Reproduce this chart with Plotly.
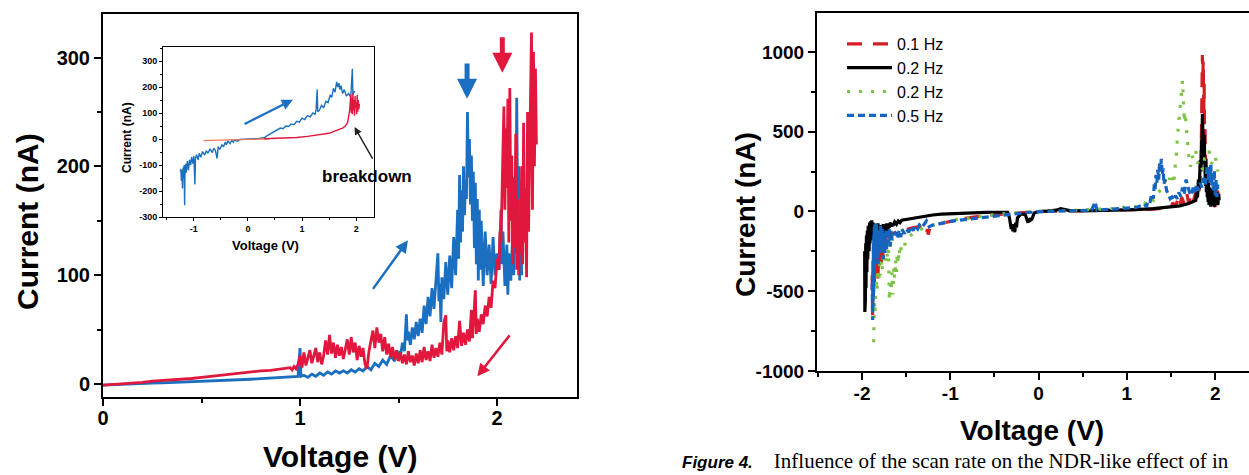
import plotly.graph_objects as go

# ---------------- Main panel: I-V sweeps (0 to 2.2 V) ----------------
main_blue_v = [0.00, 0.05, 0.10, 0.15, 0.20, 0.25, 0.30, 0.35, 0.40, 0.45, 0.50, 0.55, 0.60, 0.65,
               0.70, 0.75, 0.80, 0.85, 0.90, 0.95, 0.99, 1.00, 1.005, 1.02, 1.04, 1.06, 1.08, 1.10,
               1.12, 1.14, 1.16, 1.18, 1.20, 1.22, 1.24, 1.26, 1.28, 1.30, 1.32, 1.34, 1.36, 1.38,
               1.40, 1.42, 1.44, 1.46, 1.48, 1.50, 1.51, 1.52, 1.53, 1.54, 1.545, 1.55, 1.56, 1.57,
               1.58, 1.59, 1.60, 1.61, 1.62, 1.63, 1.64, 1.65, 1.66, 1.67, 1.68, 1.69, 1.70, 1.705,
               1.71, 1.715, 1.72, 1.73, 1.74, 1.75, 1.76, 1.77, 1.78, 1.79, 1.80, 1.805, 1.81, 1.815,
               1.82, 1.825, 1.83, 1.835, 1.84, 1.845, 1.85, 1.855, 1.86, 1.865, 1.87, 1.875, 1.88,
               1.885, 1.89, 1.895, 1.90, 1.905, 1.91, 1.915, 1.92, 1.93, 1.94, 1.95, 1.96, 1.97, 1.98,
               1.99, 2.00, 2.01, 2.02, 2.025, 2.03, 2.04, 2.05, 2.055, 2.06, 2.07, 2.08, 2.085, 2.09,
               2.095, 2.10, 2.105, 2.11, 2.115, 2.12, 2.125]
main_blue_i = [-1, -0.5, 0, 0.3, 0.5, 0.8, 1, 1.3, 1.6, 2, 2.3, 2.7, 3, 3.4,
               3.8, 4.3, 4.8, 5.3, 6, 6.5, 7, 33, 7, 8, 6, 9, 7, 10,
               8, 11, 9, 12, 10, 12, 10, 13, 11, 14, 12, 16, 13, 19,
               16, 22, 18, 26, 21, 30, 26, 38, 30, 64, 40, 48, 36, 52,
               41, 57, 44, 60, 47, 72, 55, 80, 62, 88, 69, 95, 120, 76,
               92, 57, 98, 78, 112, 82, 118, 88, 135, 100, 160, 115, 192, 130,
               178, 140, 200, 155, 185, 170, 250, 190, 225, 165, 210, 150, 195,
               125, 185, 110, 170, 95, 160, 105, 150, 90, 140, 100, 128, 92, 135,
               100, 120, 105, 160, 110, 140, 90, 128, 82, 120, 95, 140, 100, 175,
               120, 263, 150, 200, 95, 185, 100]

main_red_v = [0.00, 0.05, 0.10, 0.15, 0.20, 0.25, 0.30, 0.35, 0.40, 0.45, 0.50, 0.55, 0.60, 0.65,
              0.70, 0.75, 0.80, 0.85, 0.90, 0.95, 0.96, 0.97, 0.98, 0.99, 1.00, 1.01, 1.02, 1.03,
              1.04, 1.05, 1.06, 1.07, 1.08, 1.09, 1.10, 1.11, 1.12, 1.13, 1.14, 1.15, 1.16, 1.17,
              1.18, 1.19, 1.20, 1.21, 1.22, 1.23, 1.24, 1.25, 1.26, 1.27, 1.28, 1.29, 1.30, 1.31,
              1.32, 1.33, 1.34, 1.35, 1.36, 1.37, 1.38, 1.39, 1.40, 1.41, 1.42, 1.43, 1.44, 1.45,
              1.46, 1.47, 1.48, 1.49, 1.50, 1.51, 1.52, 1.53, 1.54, 1.55, 1.56, 1.57, 1.58, 1.59,
              1.60, 1.61, 1.62, 1.63, 1.64, 1.65, 1.66, 1.67, 1.68, 1.69, 1.70, 1.71, 1.72, 1.73,
              1.74, 1.745, 1.75, 1.76, 1.77, 1.78, 1.79, 1.80, 1.81, 1.82, 1.83, 1.84, 1.85, 1.86,
              1.87, 1.875, 1.88, 1.89, 1.895, 1.90, 1.91, 1.92, 1.93, 1.94, 1.95, 1.96, 1.97, 1.98,
              1.99, 2.00, 2.01, 2.015, 2.02, 2.025, 2.03, 2.035, 2.04, 2.045, 2.05, 2.055, 2.06,
              2.065, 2.07, 2.075, 2.08, 2.085, 2.09, 2.095, 2.10, 2.105, 2.11, 2.115, 2.12, 2.125,
              2.13, 2.135, 2.14, 2.145, 2.15, 2.155, 2.16, 2.165, 2.17, 2.175, 2.18, 2.185, 2.19,
              2.195, 2.20]
main_red_i = [-1, -0.5, 0.5, 1, 1.5, 2.5, 3, 3.5, 4.5, 5, 6, 7, 8, 9.5,
              10.5, 11, 12, 12.5, 14, 15, 13, 16, 14, 18, 26, 15, 29, 17,
              24, 31, 19, 27, 33, 20, 29, 18, 26, 40, 27, 45, 28, 38,
              24, 36, 26, 34, 23, 32, 41, 27, 43, 29, 38, 22, 35, 25,
              33, 18, 14, 30, 41, 49, 33, 52, 38, 46, 30, 43, 27, 37,
              24, 34, 22, 31, 21, 29, 19, 27, 18, 30, 20, 26, 17, 28,
              19, 31, 20, 34, 22, 30, 21, 36, 24, 33, 25, 38, 27, 56,
              63, 30, 40, 29, 42, 31, 44, 33, 58, 35, 47, 36, 50, 39,
              68, 42, 55, 86, 46, 60, 48, 64, 55, 72, 62, 80, 70, 95,
              88, 115, 105, 140, 130, 175, 210, 255, 160, 235, 180, 262, 130,
              272, 150, 210, 110, 190, 125, 230, 105, 170, 100, 150, 120, 200,
              110, 240, 130, 180, 98, 250, 140, 200, 270, 323, 160, 305, 200,
              290, 220]

# ---------------- Inset: full bipolar sweep ----------------
inset_blue_v = [-1.25, -1.245, -1.24, -1.23, -1.22, -1.21, -1.20, -1.19, -1.18, -1.17, -1.165,
                -1.15, -1.14, -1.12, -1.10, -1.08, -1.06, -1.04, -1.02, -1.00, -0.98, -0.97,
                -0.95, -0.92, -0.90, -0.87, -0.84, -0.80, -0.77, -0.74, -0.70, -0.66, -0.63,
                -0.60, -0.57, -0.55, -0.52, -0.48, -0.45, -0.42, -0.40, -0.37, -0.33, -0.30,
                -0.27, -0.25, -0.20, -0.15, -0.10, 0.00, 0.10, 0.20, 0.30, 0.35, 0.40, 0.45,
                0.50, 0.55, 0.60, 0.65, 0.70, 0.75, 0.80, 0.85, 0.90, 0.95, 1.00, 1.05, 1.10,
                1.15, 1.20, 1.24, 1.26, 1.28, 1.29, 1.32, 1.36, 1.40, 1.44, 1.48, 1.52, 1.55,
                1.58, 1.61, 1.64, 1.66, 1.68, 1.70, 1.72, 1.75, 1.78, 1.82, 1.86, 1.90, 1.93,
                1.94, 1.97]
inset_blue_i = [-125, -150, -115, -160, -120, -190, -110, -150, -100, -255, -140,
                -95, -130, -85, -120, -80, -100, -70, -95, -65, -175, -75,
                -60, -80, -55, -70, -48, -62, -45, -55, -38, -52, -35,
                -45, -75, -30, -40, -22, -30, -12, -22, -8, -18, -5,
                -12, -3, -8, -2, -1, 0, 1, 2, 5, 12, 18, 22,
                30, 35, 42, 40, 50, 48, 58, 55, 68, 65, 80, 75, 90,
                85, 100, 95, 115, 190, 105, 110, 130, 120, 145, 140, 170, 160,
                195, 180, 220, 200, 215, 190, 205, 175, 190, 165, 175, 160, 270,
                170, 185]

inset_orange_v = [-0.82, -0.60, -0.40, -0.20, 0.00, 0.20, 0.40]
inset_orange_i = [-6, -5, -3, -2, 0, 0.5, 1]

inset_red_v = [0.30, 0.60, 0.90, 1.10, 1.30, 1.50, 1.60, 1.70, 1.75, 1.80, 1.84, 1.86, 1.88,
               1.90, 1.91, 1.92, 1.93, 1.94, 1.95, 1.96, 1.97, 1.98, 1.99, 2.00, 2.01, 2.02,
               2.03, 2.04, 2.05, 2.06]
inset_red_i = [1, 3, 6, 10, 15, 22, 30, 38, 42, 50, 62, 85, 110,
               170, 100, 160, 95, 175, 110, 150, 90, 165, 120, 140, 95, 170,
               105, 150, 115, 135]

# ---------------- Right panel: scan-rate series ----------------
r01_v = [-1.885, -1.88, -1.875, -1.87, -1.865, -1.86, -1.855, -1.85, -1.845, -1.84, -1.83, -1.82,
         -1.81, -1.80, -1.79, -1.78, -1.77, -1.76, -1.75, -1.74, -1.73, -1.72, -1.70, -1.68,
         -1.65, -1.60, -1.55, -1.50, -1.45, -1.40, -1.35, -1.30, -1.27, -1.26, -1.25, -1.24,
         -1.22, -1.15, -1.10, -1.00, -0.90, -0.80, -0.60, -0.40, -0.20, 0.00, 0.50, 1.00, 1.20,
         1.30, 1.40, 1.50, 1.52, 1.55, 1.58, 1.60, 1.62, 1.65, 1.68, 1.70, 1.72, 1.75, 1.78,
         1.80, 1.82, 1.83, 1.84, 1.845, 1.85, 1.855, 1.86, 1.865, 1.87, 1.875, 1.88, 1.885,
         1.89, 1.90, 1.92, 1.95, 1.98, 2.00, 2.01, 2.02, 2.025, 2.03, 2.035, 2.04]
r01_i = [-400, -650, -350, -560, -280, -450, -250, -400, -230, -380, -280, -420,
         -250, -360, -230, -320, -200, -300, -180, -260, -160, -220, -150, -170,
         -140, -125, -120, -110, -105, -100, -95, -100, -140, -110, -145, -120,
         -95, -80, -75, -62, -50, -40, -26, -15, -8, 0, 3, 8, 12,
         15, 20, 25, 55, 30, 80, 35, 90, 45, 110, 50, 100, 60, 120,
         70, 150, 200, 300, 600, 700, 980, 850, 950, 600, 800, 450, 550,
         350, 200, 120, 80, 40, 30, 140, 60, 160, 80, 150, 110]

r02_v = [-1.97, -1.968, -1.965, -1.962, -1.958, -1.955, -1.95, -1.945, -1.94, -1.935, -1.93,
         -1.92, -1.915, -1.91, -1.90, -1.895, -1.89, -1.88, -1.875, -1.87, -1.86, -1.85, -1.84,
         -1.83, -1.82, -1.81, -1.80, -1.79, -1.78, -1.77, -1.76, -1.75, -1.74, -1.73, -1.72,
         -1.71, -1.70, -1.69, -1.68, -1.67, -1.66, -1.65, -1.63, -1.61, -1.59, -1.57, -1.55,
         -1.50, -1.45, -1.40, -1.35, -1.30, -1.20, -1.10, -1.00, -0.90, -0.80, -0.70, -0.60,
         -0.50, -0.40, -0.35, -0.33, -0.31, -0.30, -0.29, -0.28, -0.27, -0.26, -0.25, -0.24,
         -0.20, -0.15, -0.13, -0.12, -0.11, -0.10, -0.09, -0.08, -0.05, 0.00, 0.10, 0.20,
         0.25, 0.30, 0.35, 0.50, 0.70, 0.90, 1.10, 1.30, 1.40, 1.50, 1.60, 1.70, 1.75, 1.78,
         1.79, 1.80, 1.81, 1.82, 1.83, 1.84, 1.845, 1.85, 1.855, 1.86, 1.865, 1.87, 1.875,
         1.88, 1.885, 1.89, 1.895, 1.90, 1.905, 1.91, 1.915, 1.92, 1.925, 1.93, 1.94, 1.95,
         1.96, 1.97, 1.98, 1.99, 2.00, 2.01, 2.02, 2.03, 2.04, 2.045]
r02_i = [-250, -630, -300, -560, -200, -480, -150, -380, -120, -300, -90,
         -250, -70, -200, -60, -160, -55, -180, -70, -140, -80, -200, -90,
         -150, -75, -130, -85, -170, -95, -120, -80, -150, -90, -110, -75,
         -130, -80, -100, -70, -95, -75, -90, -65, -80, -60, -70, -55,
         -50, -45, -38, -32, -28, -22, -17, -14, -12, -10, -8, -6,
         -5, -4, -5, -40, -110, -80, -125, -90, -130, -70, -100, -40,
         -15, -20, -55, -70, -45, -65, -40, -55, -10, 0, 3, 8,
         18, 12, 5, 3, 5, 8, 12, 18, 22, 27, 35, 50, 60, 70,
         120, 90, 200, 140, 320, 250, 450, 350, 610, 420, 560, 300, 480,
         220, 400, 160, 330, 120, 280, 90, 220, 60, 180, 40, 150, 30,
         140, 40, 130, 30, 140, 50, 120, 40, 110, 70]

r02b_v = [-1.87, -1.868, -1.865, -1.862, -1.86, -1.857, -1.855, -1.85, -1.845, -1.84, -1.83,
          -1.82, -1.81, -1.80, -1.79, -1.78, -1.77, -1.76, -1.74, -1.72, -1.71, -1.70, -1.69,
          -1.68, -1.67, -1.66, -1.65, -1.64, -1.63, -1.62, -1.61, -1.60, -1.59, -1.58, -1.57,
          -1.55, -1.52, -1.50, -1.45, -1.40, -1.35, -1.25, -1.12, -1.00, -0.90, -0.70, -0.50,
          -0.30, 0.00, 0.30, 0.60, 0.90, 1.05, 1.10, 1.15, 1.20, 1.25, 1.30, 1.32, 1.36, 1.40,
          1.43, 1.45, 1.48, 1.50, 1.53, 1.55, 1.56, 1.57, 1.58, 1.59, 1.60, 1.61, 1.62, 1.63,
          1.64, 1.65, 1.66, 1.67, 1.68, 1.70, 1.72, 1.74, 1.75, 1.78, 1.80, 1.82, 1.86, 1.88,
          1.90, 1.93, 1.96, 2.00, 2.02, 2.03]
r02b_i = [-820, -700, -780, -640, -720, -560, -650, -500, -580, -420, -500,
          -360, -440, -330, -400, -300, -360, -280, -320, -250, -300, -240, -560,
          -450, -500, -380, -520, -350, -420, -300, -380, -260, -330, -230, -280,
          -200, -220, -170, -150, -130, -115, -95, -72, -56, -48, -32, -20,
          -10, 0, 5, 10, 20, 35, 30, 60, 50, 90, 70, 100, 120, 150,
          180, 230, 200, 240, 170, 300, 350, 450, 520, 600, 620, 700, 750, 820,
          700, 560, 620, 500, 480, 350, 280, 350, 330, 380, 300, 320, 260, 330,
          330, 380, 300, 350, 280, 250]

r05_v = [-1.885, -1.88, -1.877, -1.875, -1.872, -1.87, -1.867, -1.865, -1.862, -1.86, -1.855,
         -1.85, -1.845, -1.84, -1.835, -1.83, -1.825, -1.82, -1.81, -1.80, -1.79, -1.78, -1.77,
         -1.76, -1.75, -1.74, -1.73, -1.72, -1.71, -1.70, -1.69, -1.68, -1.67, -1.66, -1.64,
         -1.62, -1.60, -1.58, -1.56, -1.55, -1.52, -1.50, -1.47, -1.45, -1.42, -1.40, -1.37,
         -1.35, -1.32, -1.30, -1.27, -1.24, -1.20, -1.10, -1.00, -0.90, -0.75, -0.60, -0.45,
         -0.30, -0.15, 0.00, 0.20, 0.40, 0.60, 0.64, 0.66, 0.80, 1.00, 1.10, 1.20, 1.22, 1.24,
         1.26, 1.28, 1.30, 1.31, 1.32, 1.33, 1.34, 1.35, 1.36, 1.37, 1.38, 1.39, 1.40, 1.41,
         1.42, 1.43, 1.45, 1.47, 1.49, 1.51, 1.53, 1.55, 1.57, 1.59, 1.61, 1.63, 1.65, 1.67,
         1.69, 1.71, 1.73, 1.75, 1.77, 1.79, 1.81, 1.83, 1.85, 1.87, 1.89, 1.91, 1.92, 1.93,
         1.94, 1.95, 1.96, 1.97, 1.98, 1.99, 2.00, 2.01, 2.02, 2.03]
r05_i = [-450, -680, -300, -600, -200, -520, -150, -400, -100, -350, -80,
         -300, -90, -250, -70, -200, -100, -330, -120, -260, -90, -220, -110,
         -300, -130, -260, -110, -240, -130, -200, -110, -220, -120, -180, -150,
         -130, -170, -120, -160, -110, -140, -110, -130, -95, -120, -90, -110,
         -85, -100, -80, -60, -95, -85, -75, -62, -55, -45, -35, -25,
         -15, -8, -2, 3, 5, 8, 60, 8, 12, 20, 25, 45, 30, 60,
         50, 110, 80, 170, 140, 230, 180, 260, 200, 300, 250, 330, 230, 270,
         170, 200, 130, 110, 80, 90, 70, 100, 80, 120, 95, 150, 110, 200,
         150, 120, 100, 150, 120, 170, 130, 180, 150, 210, 170, 290, 200, 260,
         180, 300, 160, 240, 120, 260, 100, 200, 90, 170]

# Tick labels
main_x_ticks = [0, 1, 2]
main_x_text = ["0", "1", "2"]
main_y_ticks = [0, 100, 200, 300]
main_y_text = ["0", "100", "200", "300"]
inset_x_ticks = [-1, 0, 1, 2]
inset_x_text = ["-1", "0", "1", "2"]
inset_y_ticks = [-300, -200, -100, 0, 100, 200, 300]
inset_y_text = ["-300", "-200", "-100", "0", "100", "200", "300"]
right_x_ticks = [-2, -1, 0, 1, 2]
right_x_text = ["-2", "-1", "0", "1", "2"]
right_y_ticks = [-1000, -500, 0, 500, 1000]
right_y_text = ["-1000", "-500", "0", "500", "1000"]

BLUE = "#1b6fc0"
RED = "#e2173d"
SANS = "Liberation Sans, Arial, sans-serif"
SERIF = "Liberation Serif, Times New Roman, serif"

fig = go.Figure()

# main panel
fig.add_trace(go.Scatter(x=main_blue_v, y=main_blue_i, mode="lines", xaxis="x", yaxis="y",
                         line=dict(color=BLUE, width=2.8), showlegend=False))
fig.add_trace(go.Scatter(x=main_red_v, y=main_red_i, mode="lines", xaxis="x", yaxis="y",
                         line=dict(color=RED, width=2.8), showlegend=False))
# inset
fig.add_trace(go.Scatter(x=inset_blue_v, y=inset_blue_i, mode="lines", xaxis="x2", yaxis="y2",
                         line=dict(color=BLUE, width=1.4), showlegend=False))
fig.add_trace(go.Scatter(x=inset_orange_v, y=inset_orange_i, mode="lines", xaxis="x2", yaxis="y2",
                         line=dict(color="#f07a55", width=1.4), showlegend=False))
fig.add_trace(go.Scatter(x=inset_red_v, y=inset_red_i, mode="lines", xaxis="x2", yaxis="y2",
                         line=dict(color=RED, width=1.4), showlegend=False))
# right panel
fig.add_trace(go.Scatter(x=r01_v, y=r01_i, mode="lines", xaxis="x3", yaxis="y3", name="0.1 Hz",
                         line=dict(color="#d21f26", width=3.2, dash="15px,11px")))
fig.add_trace(go.Scatter(x=r02_v, y=r02_i, mode="lines", xaxis="x3", yaxis="y3", name="0.2 Hz",
                         line=dict(color="black", width=3.2)))
fig.add_trace(go.Scatter(x=r02b_v, y=r02b_i, mode="lines", xaxis="x3", yaxis="y3", name="0.2 Hz",
                         line=dict(color="#7cc443", width=3.2, dash="3px,9px")))
fig.add_trace(go.Scatter(x=r05_v, y=r05_i, mode="lines", xaxis="x3", yaxis="y3", name="0.5 Hz",
                         line=dict(color="#1565c0", width=3.2, dash="7px,4px")))

W, H = 1249, 475


def px_x(p):
    return p / W


def px_y(p):
    return 1 - p / H


def axis_common(size, ticklen, minor_len, lw):
    return dict(showline=True, linecolor="black", linewidth=lw, ticks="outside",
                ticklen=ticklen, tickwidth=lw, tickcolor="black", showgrid=False,
                zeroline=False, automargin=False,
                tickfont=dict(family=SANS, size=size, color="black", weight="bold"),
                minor=dict(ticks="outside", ticklen=minor_len, tickwidth=lw, tickcolor="black"))


xa = axis_common(20, 7, 4, 2)
xa.update(domain=[px_x(103), px_x(577)], range=[0, 2.406], anchor="y", mirror=True,
          tickmode="array", tickvals=main_x_ticks, ticktext=main_x_text, ticklabelstandoff=-5)
xa["minor"].update(dtick=0.5, tick0=0)
ya = axis_common(20, 7, 4, 2)
ya.update(domain=[px_y(397), px_y(14)], range=[-12, 340], anchor="x", mirror=True,
          tickmode="array", tickvals=main_y_ticks, ticktext=main_y_text)
ya["minor"].update(dtick=50, tick0=0)

xa2 = axis_common(9, 3, 2, 1)
xa2.update(domain=[px_x(163), px_x(374)], range=[-1.57, 2.33], anchor="y2", mirror=True,
           tickmode="array", tickvals=inset_x_ticks, ticktext=inset_x_text)
xa2["minor"].update(dtick=0.5, tick0=0)
ya2 = axis_common(9, 3, 2, 1)
ya2.update(domain=[px_y(217), px_y(47)], range=[-300, 354], anchor="x2", mirror=True,
           tickmode="array", tickvals=inset_y_ticks, ticktext=inset_y_text)
ya2["minor"].update(dtick=50, tick0=0)

xa3 = axis_common(19, 7, 4, 2)
xa3.update(domain=[px_x(817), 1.0], range=[-2.51, 2.383], anchor="y3", mirror=True,
           tickmode="array", tickvals=right_x_ticks, ticktext=right_x_text, ticklabelstandoff=-3)
xa3["minor"].update(dtick=0.5, tick0=0)
ya3 = axis_common(19, 7, 4, 2)
ya3.update(domain=[px_y(371), px_y(13)], range=[-1000, 1244], anchor="x3",
           tickmode="array", tickvals=right_y_ticks, ticktext=right_y_text)
ya3["minor"].update(dtick=250, tick0=0)

annotations = []


def label(text, x, y, size, angle=0, bold=True, family=SANS):
    annotations.append(dict(text=text, xref="paper", yref="paper", x=px_x(x), y=px_y(y),
                            xanchor="center", yanchor="middle", showarrow=False, textangle=angle,
                            font=dict(family=family, size=size, color="black",
                                      weight="bold" if bold else "normal")))


# axis titles
label("Voltage (V)", 340, 456, 30)
label("Current (nA)", 27, 222, 30, angle=-90)
label("Voltage (V)", 265, 245, 13)
label("Current (nA)", 127, 138, 12, angle=-90)
label("Voltage (V)", 1032, 430, 28)
label("Current (nA)", 745, 215, 28, angle=-90)


def arrow(x, y, ax, ay, color, width, head=2, size=1.0, ref=("x", "y")):
    annotations.append(dict(x=x, y=y, ax=ax, ay=ay, xref=ref[0], yref=ref[1],
                            axref=ref[0], ayref=ref[1], text="", showarrow=True,
                            arrowhead=head, arrowsize=size, arrowwidth=width,
                            arrowcolor=color))


# sweep direction / switching markers in the main panel
arrow(1.548, 132, 1.365, 86, BLUE, 2.5)
arrow(1.90, 7, 2.07, 46, RED, 2.5)
arrow(1.848, 262, 1.848, 296, BLUE, 5, head=2, size=0.8)
arrow(2.027, 286, 2.027, 320, RED, 5, head=2, size=0.8)
# inset arrows
arrow(0.83, 151, -0.09, 55, BLUE, 2.2, ref=("x2", "y2"))
arrow(1.97, 46, 2.32, -81, "#222222", 1.5, ref=("x2", "y2"))
annotations.append(dict(text="breakdown", x=2.2, y=-145, xref="x2", yref="y2", showarrow=False,
                        xanchor="center", yanchor="middle",
                        font=dict(family=SANS, size=17, color="black", weight="bold")))

# figure caption
annotations.append(dict(
    text=('<span style="font-family:Liberation Sans, Arial, sans-serif; font-size:17px">'
          '<b><i>Figure 4.</i></b></span>\u2003Influence of the scan rate on the NDR-like effect of in'),
    xref="paper", yref="paper", x=px_x(680), y=0.0, xanchor="left", yanchor="bottom",
    showarrow=False, align="left", font=dict(family=SERIF, size=21, color="black")))

fig.update_layout(
    width=W, height=H, margin=dict(l=0, r=0, t=0, b=0),
    paper_bgcolor="white", plot_bgcolor="white",
    xaxis=xa, yaxis=ya, xaxis2=xa2, yaxis2=ya2, xaxis3=xa3, yaxis3=ya3,
    annotations=annotations,
    showlegend=True,
    legend=dict(x=px_x(842), y=px_y(27), xanchor="left", yanchor="top",
                bgcolor="rgba(0,0,0,0)", borderwidth=0, tracegroupgap=0,
                font=dict(family=SANS, size=16, color="black"), itemwidth=45),
)

fig.write_html("out.html")
